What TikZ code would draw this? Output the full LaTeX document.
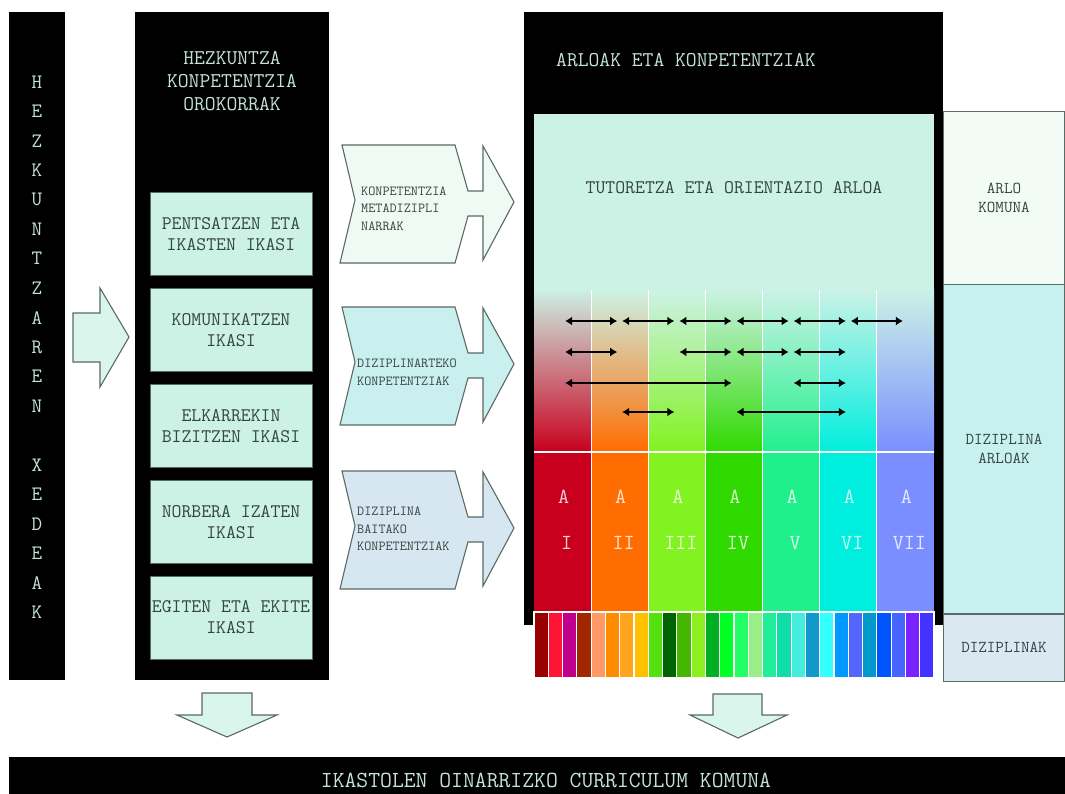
\documentclass[tikz,border=0pt]{standalone}
\usepackage{fontspec}
\newcommand\cour{\ttfamily}
\usetikzlibrary{positioning,arrows.meta}

\definecolor{mint}{HTML}{CCF2E6}
\definecolor{pale}{HTML}{C4E2D6}
\definecolor{ink}{HTML}{34443F}
\definecolor{rim}{HTML}{5A6A65}
\definecolor{metaf}{HTML}{EEFAF3}
\definecolor{interf}{HTML}{C9F0EE}
\definecolor{intraf}{HTML}{D7E7F1}
\definecolor{komunaf}{HTML}{F3FBF6}
\definecolor{arloakf}{HTML}{C6F1EF}
\definecolor{dizf}{HTML}{DAE8F2}
\definecolor{areaI}{RGB}{200,0,30}
\definecolor{areaII}{RGB}{255,108,0}
\definecolor{areaIII}{RGB}{130,242,32}
\definecolor{areaIV}{RGB}{48,218,0}
\definecolor{areaV}{RGB}{32,240,140}
\definecolor{areaVI}{RGB}{0,238,222}
\definecolor{areaVII}{RGB}{122,142,255}

\begin{document}
\begin{tikzpicture}[x=1pt,y=-1pt,
  blk/.style={fill=black,inner sep=0pt},
  hdr/.style={text=pale,font={\cour\fontsize{21}{23}\selectfont},align=center,inner sep=0pt},
  ikasi/.style={draw=rim,fill=mint,minimum width=162pt,minimum height=83pt,inner sep=0pt,
    align=center,text=ink,font={\cour\fontsize{19.2}{21}\selectfont}},
  small/.style={text=ink,font={\cour\fontsize{13.8}{17.5}\selectfont},align=left,inner sep=0pt,anchor=west},
  side/.style={draw=rim,minimum width=121pt,inner sep=0pt,align=center,text=ink,
    font={\cour\fontsize{16.6}{19}\selectfont}},
  areatxt/.style={text=white,text opacity=.8,font={\cour\fontsize{21.5}{21.5}\selectfont},inner sep=0pt},
  blockarrow/.style={draw=rim,line width=1.1pt,fill=mint!75!white,line join=miter},
  link/.style={{Latex[length=7pt,width=9pt]}-{Latex[length=7pt,width=9pt]},line width=2.6pt}]

  \useasboundingbox[fill=white] (0,0) rectangle (1065,793);

  % left column
  \node[blk,minimum width=56pt,minimum height=668pt] (xedeak) at (37,346) {};
  \foreach \l [count=\i from 0] in {H,E,Z,K,U,N,T,Z,A,R,E,N,{},X,E,D,E,A,K}
    \node[hdr,font={\cour\fontsize{20.5}{20.5}\selectfont}] (let\i) at (37,82+29.45*\i) {\l};

  \filldraw[blockarrow] (73,313) -- (100,313) -- (100,288) -- (129,337) -- (100,387) -- (100,362) -- (73,362) -- cycle;

  % general competences
  \node[blk,minimum width=194pt,minimum height=668pt] (orokor) at (232,346) {};
  \node[hdr] (orokortxt) at (232,81) {HEZKUNTZA\\KONPETENTZIA\\OROKORRAK};
  \node[ikasi] (pents) at (231,234) {PENTSATZEN ETA\\IKASTEN IKASI};
  \node[ikasi,below=12.5pt of pents] (komun) {KOMUNIKATZEN\\IKASI};
  \node[ikasi,below=12.5pt of komun] (elkar) {ELKARREKIN\\BIZITZEN IKASI};
  \node[ikasi,below=12.5pt of elkar] (norb) {NORBERA IZATEN\\IKASI};
  \node[ikasi,below=12.5pt of norb] (egit) {EGITEN ETA EKITE\\IKASI};

  % chevrons
  \foreach \t/\f in {145/metaf,307/interf,471/intraf}
    \filldraw[blockarrow,fill=\f] (342,\t) -- (455,\t) -- (468,\t+46) -- (483,\t+46) -- (483,\t+1)
      -- (514,\t+57) -- (483,\t+115) -- (483,\t+71) -- (468,\t+71) -- (455,\t+118)
      -- (340,\t+118) -- (355,\t+55) -- cycle;
  \node[small] (meta) at (361,208.5) {KONPETENTZIA\\METADIZIPLI\\NARRAK};
  \node[small] (inter) at (357,372.5) {DIZIPLINARTEKO\\KONPETENTZIAK};
  \node[small] (intra) at (357,529) {DIZIPLINA\\BAITAKO\\KONPETENTZIAK};

  % areas and competences
  \node[blk,minimum width=419pt,minimum height=613pt] (arloak) at (733.5,318.5) {};
  \node[hdr,anchor=west] (arloaktxt) at (556,60) {ARLOAK ETA KONPETENTZIAK};
  \fill[mint] (534,114) rectangle (934,290);
  \node[text=ink,font={\cour\fontsize{19.2}{20}\selectfont},inner sep=0pt] (tutor) at (734,188) {TUTORETZA ETA ORIENTAZIO ARLOA};

  \foreach \col/\num [count=\i from 0] in {areaI/I,areaII/II,areaIII/III,areaIV/IV,areaV/V,areaVI/VI,areaVII/VII} {
    \shade[top color=mint,bottom color=\col] ({534+57.143*\i},289) rectangle ++(57.143,163);
    \fill[\col] ({534+57.143*\i},452) rectangle ++(57.143,160);
    \node[areatxt] (a\i) at ({534+57.143*(\i+0.5)+1},497) {A};
    \node[areatxt] (n\i) at ({534+57.143*(\i+0.5)+4},543) {\num};
  }
  \foreach \i in {1,...,6}
    \draw[white,line width=1.2pt] ({534+57.143*\i},290) -- ++(0,322);
  \draw[white,line width=1.2pt] (534,452) -- (934,452);

  \foreach \s [count=\i from 0] in {990000,FF1434,C0008C,A02800,FF9966,FF8C00,FFA41C,FFC000,
      55E010,006400,44B800,8CF020,00B020,00FF22,22FF66,99EE88,22EE99,11DDAA,44EEDD,1199CC,
      33FFFF,0099FF,5566FF,0099CC,0055FF,4466FF,7722FF,4433FF} {
    \definecolor{strip}{HTML}{\s}
    \filldraw[fill=strip,draw=white,line width=1.2pt] ({534+14.286*\i},612) rectangle ++(14.286,66);
  }

  \foreach \r/\y in {1/321,2/352,3/383,4/412}
    \foreach \c in {1,...,7}
      \coordinate (r\r-\c) at ({534+57.143*(\c-0.5)},\y);
  \foreach \r/\a/\b in {1/1/2,1/2/3,1/3/4,1/4/5,1/5/6,1/6/7,
      2/1/2,2/3/4,2/4/5,2/5/6,3/1/4,3/5/6,4/2/3,4/4/6}
    \draw[link] ([xshift=2.5pt]r\r-\a) -- ([xshift=-2.5pt]r\r-\b);

  % right column
  \node[side,fill=komunaf,minimum height=173pt] (komuna) at (1004,197.5) {ARLO\\KOMUNA};
  \node[side,fill=arloakf,minimum height=329pt,below=0pt of komuna] (dizarloak) {DIZIPLINA\\ARLOAK};
  \node[side,fill=dizf,minimum height=67pt,below=0pt of dizarloak] (diziplinak) {DIZIPLINAK};

  % bottom
  \filldraw[blockarrow] (202,693) -- (252,693) -- (252,715) -- (277,715) -- (227,737) -- (177,715) -- (202,715) -- cycle;
  \filldraw[blockarrow] (713,694) -- (762,694) -- (762,715) -- (787,715) -- (738,738) -- (690,715) -- (713,715) -- cycle;
  \node[blk,minimum width=1074pt,minimum height=46pt,text=pale,
    font={\cour\fontsize{23}{23}\selectfont}] (komunbar) at (546,780) {IKASTOLEN OINARRIZKO CURRICULUM KOMUNA};
\end{tikzpicture}
\end{document}
